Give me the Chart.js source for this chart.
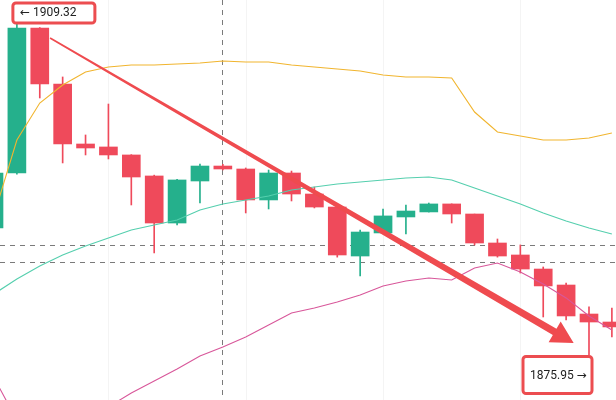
<!DOCTYPE html>
<html>
<head>
<meta charset="utf-8">
<script src="https://cdn.jsdelivr.net/npm/chart.js@4"></script>
<style>
  html, body { margin: 0; padding: 0; background: #fff; }
  #wrap { width: 616px; height: 400px; }
</style>
</head>
<body>
<div id="wrap"><canvas id="grafico"></canvas></div>
<script>
// candles (index 0 is the partial one cut by the left edge)
const opens  = [1888.34, 1893.71, 1907.86, 1902.39, 1896.54, 1896.25, 1895.47, 1893.42, 1888.83, 1892.93, 1894.39, 1894.10, 1891.08, 1893.71, 1891.66, 1890.39, 1885.61, 1887.86, 1889.42, 1889.91, 1890.69, 1889.71, 1886.88, 1885.71, 1884.34, 1882.78, 1879.95, 1879.17];
const highs  = [1894.00, 1909.32, 1907.90, 1903.08, 1897.42, 1900.44, 1895.50, 1893.50, 1893.10, 1894.59, 1894.55, 1894.20, 1894.00, 1893.90, 1892.34, 1890.40, 1888.15, 1890.20, 1890.59, 1890.78, 1890.70, 1889.70, 1887.27, 1886.69, 1884.54, 1882.98, 1880.64, 1880.54];
const lows   = [1887.95, 1893.60, 1901.03, 1894.69, 1895.47, 1895.08, 1890.59, 1885.91, 1888.64, 1890.78, 1894.00, 1889.81, 1890.20, 1890.98, 1890.30, 1885.50, 1883.66, 1887.80, 1887.76, 1889.90, 1888.83, 1886.69, 1885.50, 1883.95, 1879.66, 1879.37, 1875.95, 1877.71];
const closes = [1893.71, 1907.86, 1902.39, 1896.54, 1896.15, 1895.47, 1893.32, 1888.83, 1893.03, 1894.39, 1894.10, 1891.08, 1893.71, 1891.66, 1890.39, 1885.71, 1887.95, 1889.52, 1890.00, 1890.69, 1889.71, 1886.88, 1885.61, 1884.34, 1882.69, 1879.76, 1879.17, 1878.69];

// bollinger bands
const bandUpper  = [1889.61, 1896.93, 1900.54, 1902.30, 1903.56, 1904.05, 1904.25, 1904.25, 1904.34, 1904.44, 1904.64, 1904.54, 1904.54, 1904.25, 1904.05, 1903.86, 1903.66, 1903.27, 1903.08, 1903.08, 1902.98, 1899.66, 1897.71, 1897.32, 1896.93, 1896.93, 1897.12, 1897.61];
const bandMiddle = [1881.91, 1883.37, 1884.64, 1885.71, 1886.59, 1887.37, 1888.15, 1888.64, 1889.13, 1890.10, 1890.69, 1891.08, 1891.47, 1892.05, 1892.34, 1892.64, 1892.83, 1893.03, 1893.22, 1893.32, 1893.03, 1892.25, 1891.47, 1890.69, 1889.81, 1889.03, 1888.34, 1887.76];
const bandLower  = [1873.71, 1869.61, 1867.66, 1867.66, 1869.13, 1870.88, 1872.25, 1873.42, 1874.59, 1875.85, 1876.73, 1877.71, 1878.88, 1880.05, 1880.54, 1881.12, 1881.81, 1882.69, 1883.17, 1883.47, 1883.27, 1884.44, 1884.93, 1884.05, 1882.88, 1881.52, 1879.76, 1878.39];

// reference lines and annotation
const priceLines = [1886.69, 1885.03];
const crosshairIndex = 10;
const gridIndexes = [5, 11, 17, 23];
const arrowFrom = [2.45, 1906.88];
const arrowTo = [25.33, 1877.13];

const verde = '#25b08c';
const vermelho = '#ef4a5b';

const idx = opens.map((_, i) => i);
const corCandle = idx.map(i => closes[i] >= opens[i] ? verde : vermelho);
const maxAlta = Math.max(...highs);
const minBaixa = Math.min(...lows);
const iMax = highs.indexOf(maxAlta);
const iMin = lows.indexOf(minBaixa);

// fundo: grade, linhas tracejadas, cruz
const fundo = {
  id: 'fundo',
  beforeDatasetsDraw(chart) {
    const { ctx, chartArea: a, scales: { x, y } } = chart;
    ctx.save();
    ctx.lineWidth = 1;
    ctx.strokeStyle = '#f4f4f4';
    gridIndexes.forEach(g => {
      const px = Math.round(x.getPixelForValue(g)) + 0.5;
      ctx.beginPath(); ctx.moveTo(px, a.top); ctx.lineTo(px, a.bottom); ctx.stroke();
    });
    ctx.strokeStyle = '#7a7a7a';
    ctx.setLineDash([5, 5]);
    priceLines.forEach(p => {
      const py = Math.round(y.getPixelForValue(p)) + 0.5;
      ctx.beginPath(); ctx.moveTo(a.left, py); ctx.lineTo(a.right, py); ctx.stroke();
    });
    const cx = Math.round(x.getPixelForValue(crosshairIndex)) - 0.5;
    ctx.beginPath(); ctx.moveTo(cx, a.top); ctx.lineTo(cx, a.bottom); ctx.stroke();
    ctx.restore();
  }
};

// seta e etiquetas
const anotacoes = {
  id: 'anotacoes',
  afterDatasetsDraw(chart) {
    const { ctx, scales: { x, y } } = chart;
    ctx.save();

    // seta afinando para o inicio
    const x0 = x.getPixelForValue(arrowFrom[0]), y0 = y.getPixelForValue(arrowFrom[1]);
    const x1 = x.getPixelForValue(arrowTo[0]), y1 = y.getPixelForValue(arrowTo[1]);
    const len = Math.hypot(x1 - x0, y1 - y0);
    const dx = (x1 - x0) / len, dy = (y1 - y0) / len;
    const nx = -dy, ny = dx;
    const cab = 22, meia = 12, w0 = 0.8, w1 = 3.6;
    const bx = x1 - dx * cab, by = y1 - dy * cab;
    ctx.fillStyle = '#ef4b4f';
    ctx.beginPath();
    ctx.moveTo(x0 + nx * w0, y0 + ny * w0);
    ctx.lineTo(bx + nx * w1, by + ny * w1);
    ctx.lineTo(bx + nx * meia, by + ny * meia);
    ctx.lineTo(x1, y1);
    ctx.lineTo(bx - nx * meia, by - ny * meia);
    ctx.lineTo(bx - nx * w1, by - ny * w1);
    ctx.lineTo(x0 - nx * w0, y0 - ny * w0);
    ctx.closePath();
    ctx.fill();

    ctx.font = '12px Roboto, "DejaVu Sans", sans-serif';
    ctx.textBaseline = 'middle';

    function caixa(l, t, w, h) {
      ctx.fillStyle = '#fff';
      ctx.strokeStyle = '#ec4d50';
      ctx.lineWidth = 3;
      ctx.beginPath();
      ctx.roundRect(l, t, w, h, 3);
      ctx.fill();
      ctx.stroke();
    }

    // maxima
    const hx = x.getPixelForValue(iMax), hy = y.getPixelForValue(maxAlta);
    caixa(hx - 4, hy - 10, 82, 20);
    ctx.fillStyle = '#222';
    ctx.textAlign = 'left';
    ctx.fillText('← ' + maxAlta.toFixed(2), hx + 3, hy);

    // minima
    const lx = x.getPixelForValue(iMin), ly = y.getPixelForValue(minBaixa);
    caixa(lx - 66, ly + 1.5, 69, 37);
    ctx.fillStyle = '#222';
    ctx.fillText(minBaixa.toFixed(2) + ' →', lx - 59, ly + 21);

    ctx.restore();
  }
};

const ctxGrafico = document.getElementById('grafico').getContext('2d');
const grafico = new Chart(ctxGrafico, {
  type: 'bar',
  data: {
    datasets: [
      {
        type: 'line', label: 'upper', order: 0,
        data: idx.map(i => ({ x: i, y: bandUpper[i] })),
        borderColor: '#f1b52f', borderWidth: 1.1, pointRadius: 0, tension: 0
      },
      {
        type: 'line', label: 'middle', order: 0,
        data: idx.map(i => ({ x: i, y: bandMiddle[i] })),
        borderColor: '#55cfae', borderWidth: 1.1, pointRadius: 0, tension: 0
      },
      {
        type: 'line', label: 'lower', order: 0,
        data: idx.map(i => ({ x: i, y: bandLower[i] })),
        borderColor: '#d8579a', borderWidth: 1.1, pointRadius: 0, tension: 0
      },
      {
        label: 'corpo', order: 1,
        data: idx.map(i => ({ x: i, y: [opens[i], closes[i]] })),
        backgroundColor: corCandle, barThickness: 18, grouped: false,
        minBarLength: 2
      },
      {
        label: 'pavio', order: 2,
        data: idx.map(i => ({ x: i, y: [lows[i], highs[i]] })),
        backgroundColor: corCandle, barThickness: 1, grouped: false
      }
    ]
  },
  options: {
    responsive: true,
    maintainAspectRatio: false,
    animation: false,
    layout: { padding: 0 },
    plugins: { legend: { display: false }, tooltip: { enabled: false } },
    scales: {
      x: { type: 'linear', min: 0.262, max: 27.18, offset: false, display: false, grid: { offset: false } },
      y: { min: 1871.56, max: 1910.59, display: false }
    }
  },
  plugins: [fundo, anotacoes]
});
</script>
</body>
</html>
